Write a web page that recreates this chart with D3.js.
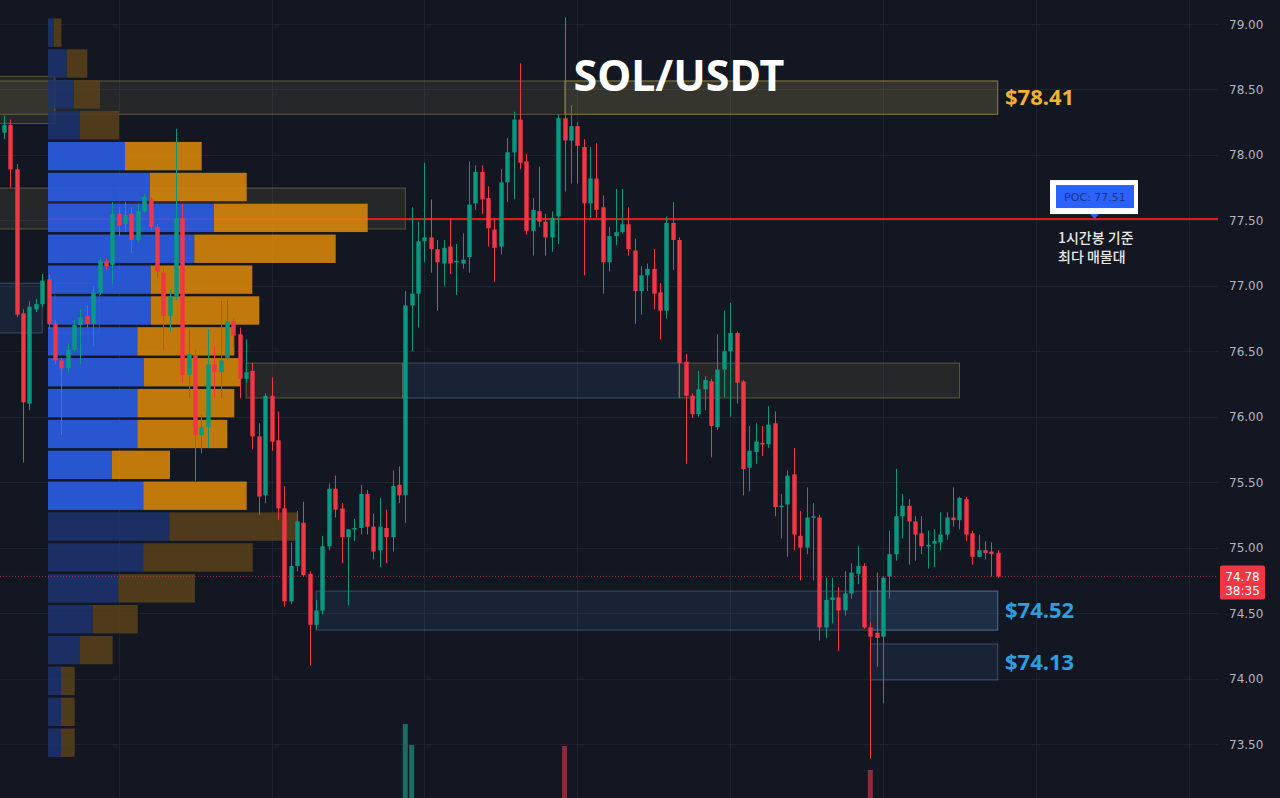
<!DOCTYPE html>
<html>
<head>
<meta charset="utf-8">
<script src="https://cdn.jsdelivr.net/npm/d3@7/dist/d3.min.js"></script>
<style>
  html, body { margin: 0; padding: 0; background: #131722; overflow: hidden; }
  svg { display: block; }
</style>
</head>
<body>
<svg id="chart"></svg>
<script>
// SOL/USDT 1h candles: [open, high, low, close]
const ohlc = [
  [78.17,78.30,78.12,78.23],[78.23,78.27,77.75,77.89],[77.89,77.93,76.76,76.78],[76.79,76.82,75.65,76.11],
  [76.10,76.88,76.05,76.84],[76.82,76.90,76.80,76.86],[76.86,77.09,76.84,77.04],[77.05,77.09,76.67,76.71],
  [76.71,76.74,76.40,76.43],[76.43,76.45,75.86,76.37],[76.37,76.56,76.34,76.51],[76.51,76.74,76.49,76.70],
  [76.70,76.82,76.40,76.76],[76.77,76.85,76.68,76.71],[76.71,77.00,76.54,76.95],[76.95,77.22,76.93,77.19],
  [77.19,77.21,77.12,77.15],[77.16,77.64,77.01,77.55],[77.55,77.60,77.38,77.46],[77.47,77.64,77.41,77.54],
  [77.55,77.60,77.25,77.35],[77.35,77.63,77.33,77.57],[77.57,77.70,77.56,77.68],[77.66,77.68,77.42,77.45],
  [77.45,77.47,77.06,77.11],[77.10,77.14,76.51,76.77],[76.77,76.97,76.65,76.92],[76.92,78.20,76.89,77.52],
  [77.52,77.63,76.26,76.32],[76.32,76.67,76.14,76.48],[76.47,76.51,75.51,75.86],[75.86,76.02,75.72,75.92],
  [75.92,76.67,75.76,76.40],[76.40,76.54,76.15,76.34],[76.34,76.89,76.14,76.43],[76.45,76.90,76.43,76.73],
  [76.73,76.75,76.53,76.62],[76.63,76.68,76.14,76.29],[76.29,76.59,76.26,76.34],[76.35,76.41,75.75,75.85],
  [75.85,75.95,75.25,75.39],[75.40,76.18,75.34,76.16],[76.16,76.30,75.74,75.81],[75.82,76.04,75.21,75.30],
  [75.30,75.47,74.55,74.59],[74.59,75.04,74.57,74.86],[74.86,75.28,74.82,75.20],[75.19,75.35,74.78,74.79],
  [74.80,74.82,74.10,74.41],[74.41,74.60,74.38,74.52],[74.52,75.09,74.49,75.01],[75.01,75.49,74.98,75.45],
  [75.45,75.55,75.23,75.29],[75.30,75.34,74.88,75.08],[75.08,75.14,74.56,75.14],[75.14,75.22,75.05,75.15],
  [75.15,75.48,75.10,75.41],[75.41,75.44,75.10,75.16],[75.16,75.26,74.91,74.97],[74.98,75.38,74.85,75.16],
  [75.15,75.29,74.88,75.08],[75.08,75.59,74.97,75.47],[75.48,75.62,75.34,75.40],[75.40,76.96,75.19,76.85],
  [76.85,77.60,76.50,76.94],[76.94,77.49,76.68,77.34],[77.34,77.94,77.18,77.37],[77.37,77.66,77.10,77.28],
  [77.28,77.35,76.81,77.18],[77.17,77.35,77.00,77.29],[77.30,77.52,77.09,77.17],[77.18,77.32,76.93,77.19],
  [77.17,77.40,77.13,77.20],[77.22,77.95,77.10,77.62],[77.63,77.92,77.58,77.87],[77.87,77.92,77.55,77.66],
  [77.67,77.76,77.30,77.44],[77.43,77.52,77.03,77.29],[77.30,77.89,77.24,77.79],[77.79,78.13,77.64,78.02],
  [78.02,78.33,77.66,78.27],[78.27,78.70,77.89,77.94],[77.95,78.01,77.39,77.42],[77.42,77.67,77.23,77.58],
  [77.57,77.91,77.45,77.49],[77.49,77.55,77.23,77.37],[77.37,77.57,77.26,77.52],[77.53,78.31,77.32,78.28],
  [78.28,79.05,77.72,78.11],[78.11,78.38,77.78,78.22],[78.22,78.25,77.78,78.07],[78.06,78.12,77.08,77.63],
  [77.63,78.06,77.52,77.82],[77.82,78.09,77.52,77.58],[77.60,77.69,76.94,77.18],[77.18,77.45,77.11,77.38],
  [77.38,77.74,77.31,77.41],[77.41,77.74,77.40,77.47],[77.47,77.60,77.23,77.28],[77.27,77.36,76.71,76.96],
  [76.96,77.15,76.78,77.08],[77.08,77.17,76.96,77.13],[77.13,77.28,76.82,76.94],[76.95,77.02,76.59,76.81],
  [76.81,77.53,76.75,77.48],[77.48,77.64,77.12,77.35],[77.35,77.37,76.15,76.41],[76.42,76.48,75.64,76.16],
  [76.16,76.18,75.99,76.02],[76.02,76.35,76.00,76.21],[76.21,76.31,76.05,76.28],[76.27,76.29,75.69,75.93],
  [75.92,76.63,75.90,76.36],[76.36,76.81,76.15,76.50],[76.50,76.87,76.00,76.64],[76.64,76.65,76.10,76.26],
  [76.27,76.28,75.40,75.60],[75.61,75.93,75.43,75.74],[75.73,75.95,75.64,75.81],[75.80,75.93,75.70,75.79],
  [75.79,76.08,75.76,75.94],[75.95,76.04,75.24,75.31],[75.31,75.41,75.07,75.32],[75.33,75.59,74.93,75.55],
  [75.56,75.76,74.98,75.10],[75.09,75.28,74.75,75.00],[75.00,75.46,74.95,75.23],[75.23,75.34,74.75,75.24],
  [75.23,75.25,74.29,74.39],[74.39,74.77,74.31,74.60],[74.60,74.77,74.42,74.62],[74.62,74.70,74.21,74.52],
  [74.52,74.82,74.48,74.65],[74.65,74.88,74.61,74.81],[74.80,75.01,74.72,74.86],[74.86,74.88,74.38,74.39],
  [74.39,74.43,73.39,74.32],[74.35,74.81,74.09,74.31],[74.32,74.78,73.81,74.77],[74.78,75.13,74.61,74.95],
  [74.95,75.60,74.90,75.24],[75.24,75.41,75.07,75.32],[75.32,75.37,74.87,75.20],[75.20,75.24,74.90,75.10],
  [75.11,75.24,74.95,75.01],[75.02,75.13,74.84,75.02],[75.03,75.14,74.85,75.05],[75.04,75.27,74.98,75.10],
  [75.10,75.27,75.06,75.23],[75.23,75.46,75.16,75.21],[75.21,75.39,75.14,75.38],[75.37,75.39,75.05,75.10],
  [75.11,75.13,74.87,74.93],[74.93,75.10,74.93,74.98],[74.98,75.05,74.91,74.96],[74.97,75.04,74.78,74.95],
  [74.96,74.98,74.77,74.78]
];

// volume bars tall enough to show above the bottom edge (candle index, volume in K)
const bigVolumes = [
  { i: 63, v: 128 }, { i: 64, v: 107 }, { i: 88, v: 106 }, { i: 136, v: 82 }
];

// volume profile, 24 rows, top row first (buy = blue, sell = orange)
const profileBuy  = [6, 18.7, 26, 32, 77, 102, 166, 146.3, 102.7, 102.7, 89.3, 96,
                     89.3, 89.3, 64, 95.3, 121.3, 95.3, 70.3, 44.7, 32, 13, 13, 13];
const profileSell = [7.4, 20.6, 26, 39, 76.7, 96.7, 153.7, 141.4, 101.6, 108.6, 97, 96,
                     97, 90, 58, 103.4, 128, 109.4, 76.7, 45, 32.7, 13.7, 13.7, 13.7];

// marked zones: candle index range and price range
const zones = [
  { from: -1,   to: 8,   top: 78.60, bottom: 78.24, kind: "supply" },
  { from: -1,   to: 156, top: 78.565, bottom: 78.31, kind: "supply" },
  { from: 88,   to: 156, top: 78.565, bottom: 78.31, kind: "supply" },
  { from: -1,   to: 63,  top: 77.747, bottom: 77.434, kind: "supply" },
  { from: -1,   to: 6,   top: 77.02, bottom: 76.64, kind: "demand" },
  { from: 8,    to: 15,  top: 77.02, bottom: 76.64, kind: "outline" },
  { from: 38,   to: 62.6, top: 76.41, bottom: 76.143, kind: "supply" },
  { from: 106,  to: 150, top: 76.41, bottom: 76.143, kind: "supply" },
  { from: 62.6, to: 106, top: 76.41, bottom: 76.143, kind: "demand" },
  { from: 49,   to: 156, top: 74.668, bottom: 74.37, kind: "demand" },
  { from: 136,  to: 156, top: 74.668, bottom: 74.37, kind: "demand" },
  { from: 136,  to: 156, top: 74.264, bottom: 73.989, kind: "demand" }
];

const zoneLabels = [
  { price: 78.44, text: "$78.41", color: "#f2b230" },
  { price: 74.52, text: "$74.52", color: "#2b9fe0" },
  { price: 74.13, text: "$74.13", color: "#2b9fe0" }
];

const priceTicks = [79.00, 78.50, 78.00, 77.50, 77.00, 76.50, 76.00, 75.50, 75.00, 74.50, 74.00, 73.50];
const pocPrice = 77.51;
const lastPrice = 74.78;
const countdown = "38:35";

const width = 1280;
const height = 798;
const plotRight = 1218;
const up = "#089981", down = "#f23645";

const svg = d3.select("#chart")
    .attr("width", width)
    .attr("height", height)
    .attr("viewBox", [0, 0, width, height]);

svg.append("rect").attr("width", width).attr("height", height).attr("fill", "#131722");

var x = d3.scaleLinear().domain([0, ohlc.length - 1]).range([4, 997.7]);
var y = d3.scaleLinear().domain([73.5, 79]).range([744, 24]);

// grid
svg.append("g").selectAll("line")
    .data(priceTicks)
    .join("line")
    .attr("x1", 0).attr("x2", plotRight)
    .attr("y1", d => Math.round(y(d)) + 0.5).attr("y2", d => Math.round(y(d)) + 0.5)
    .attr("stroke", "#1f2330");

var vTicks = d3.range(18, 200, 24).filter(i => x(i) < plotRight);
svg.append("g").selectAll("line")
    .data(vTicks)
    .join("line")
    .attr("x1", d => Math.round(x(d)) + 0.5).attr("x2", d => Math.round(x(d)) + 0.5)
    .attr("y1", 0).attr("y2", height)
    .attr("stroke", "#1f2330");

// zones
var zoneStyle = {
    supply:  { fill: "rgba(170,160,90,0.12)", stroke: "rgba(170,155,80,0.45)" },
    demand:  { fill: "rgba(70,115,170,0.14)", stroke: "rgba(95,135,175,0.45)" },
    outline: { fill: "rgba(170,160,90,0.03)", stroke: "rgba(170,155,80,0.35)" }
};
svg.append("g").selectAll("rect")
    .data(zones)
    .join("rect")
    .attr("x", d => x(d.from))
    .attr("y", d => y(d.top))
    .attr("width", d => x(d.to) - x(d.from))
    .attr("height", d => y(d.bottom) - y(d.top))
    .attr("fill", d => zoneStyle[d.kind].fill)
    .attr("stroke", d => zoneStyle[d.kind].stroke)
    .attr("stroke-width", 1);

// volume bars
var yVol = d3.scaleLinear().domain([0, 130]).range([852, 722]);
svg.append("g").selectAll("rect")
    .data(bigVolumes)
    .join("rect")
    .attr("x", d => x(d.i) - 2.5)
    .attr("width", 5)
    .attr("y", d => yVol(d.v))
    .attr("height", d => height - yVol(d.v))
    .attr("fill", d => ohlc[d.i][3] >= ohlc[d.i][0] ? "#1c6b60" : "#8a2c3a");

// POC line
svg.append("line")
    .attr("x1", 48).attr("x2", plotRight)
    .attr("y1", y(pocPrice)).attr("y2", y(pocPrice))
    .attr("stroke", "#e8151b").attr("stroke-width", 2);

// volume profile
var hi = d3.max(ohlc, d => d[1]);
var lo = d3.min(ohlc, d => d[2]);
var rows = profileBuy.length;
var step = (hi - lo) / rows;
var totals = profileBuy.map((b, k) => b + profileSell[k]);
var pocRow = d3.maxIndex(totals);

// value area: 70% of volume around POC
var inVA = new Set([pocRow]);
var vaSum = totals[pocRow], vaTotal = d3.sum(totals);
var a = pocRow - 1, b = pocRow + 1;
while (vaSum < 0.7 * vaTotal && (a >= 0 || b < rows)) {
    var va = a >= 0 ? totals[a] : -1;
    var vb = b < rows ? totals[b] : -1;
    if (vb >= va) { inVA.add(b); vaSum += vb; b++; }
    else { inVA.add(a); vaSum += va; a--; }
}

var px = d3.scaleLinear().domain([0, d3.max(totals)]).range([48, 367.7]);
var profile = svg.append("g").attr("fill-opacity", 0.88);
profileBuy.forEach((buy, k) => {
    var top = y(hi - k * step) + 1;
    var h = y(hi - (k + 1) * step) - y(hi - k * step) - 2.5;
    var bright = inVA.has(k);
    profile.append("rect")
        .attr("x", px(0)).attr("y", top)
        .attr("width", px(buy) - px(0)).attr("height", h)
        .attr("fill", bright ? "#2b5fe8" : "#1d336d");
    profile.append("rect")
        .attr("x", px(buy)).attr("y", top)
        .attr("width", px(buy + profileSell[k]) - px(buy)).attr("height", h)
        .attr("fill", bright ? "#db8709" : "#58411b");
});

// candles
var candles = svg.append("g");
candles.selectAll("line")
    .data(ohlc)
    .join("line")
    .attr("x1", (d, i) => Math.round(x(i)) + 0.5)
    .attr("x2", (d, i) => Math.round(x(i)) + 0.5)
    .attr("y1", d => y(d[1]))
    .attr("y2", d => y(d[2]))
    .attr("stroke", d => d[3] >= d[0] ? up : down)
    .attr("stroke-width", 1);

candles.selectAll("rect")
    .data(ohlc)
    .join("rect")
    .attr("x", (d, i) => Math.round(x(i)) + 0.5 - 2.2)
    .attr("width", 4.4)
    .attr("y", d => y(Math.max(d[0], d[3])))
    .attr("height", d => Math.max(1.5, Math.abs(y(d[0]) - y(d[3]))))
    .attr("fill", d => d[3] >= d[0] ? up : down);

// last price dotted line
svg.append("line")
    .attr("x1", 0).attr("x2", plotRight)
    .attr("y1", y(lastPrice)).attr("y2", y(lastPrice))
    .attr("stroke", "#f23645").attr("stroke-opacity", 0.6)
    .attr("stroke-dasharray", "1,2");

// title
svg.append("text")
    .attr("x", 679).attr("y", 91)
    .attr("text-anchor", "middle")
    .attr("font-family", "'Noto Sans', 'Open Sans', sans-serif")
    .attr("font-weight", 700)
    .attr("font-size", 43)
    .attr("fill", "#ffffff")
    .text("SOL/USDT");

// zone price labels
svg.append("g").selectAll("text")
    .data(zoneLabels)
    .join("text")
    .attr("x", 1005)
    .attr("y", d => y(d.price) + 8)
    .attr("font-family", "'Noto Sans', sans-serif")
    .attr("font-weight", 700)
    .attr("font-size", 22)
    .attr("fill", d => d.color)
    .text(d => d.text);

// POC callout
var pocY = y(pocPrice);
var callout = svg.append("g");
callout.append("rect")
    .attr("x", 1050).attr("y", pocY - 39)
    .attr("width", 88).attr("height", 34)
    .attr("fill", "#ffffff");
callout.append("rect")
    .attr("x", 1056).attr("y", pocY - 34)
    .attr("width", 78).attr("height", 23)
    .attr("fill", "#2962ff");
callout.append("text")
    .attr("x", 1095).attr("y", pocY - 18)
    .attr("text-anchor", "middle")
    .attr("font-family", "'DejaVu Sans', sans-serif")
    .attr("font-size", 11)
    .attr("fill", "#1e3680")
    .text("POC: " + pocPrice.toFixed(2));
callout.append("path")
    .attr("d", `M1090,${pocY - 5} L1099,${pocY - 5} L1094.5,${pocY}Z`)
    .attr("fill", "#2962ff");
["1시간봉 기준", "최다 매물대"].forEach((t, k) => {
    callout.append("text")
        .attr("x", 1058).attr("y", pocY + 24 + k * 19)
        .attr("font-family", "'Noto Sans CJK KR', sans-serif")
        .attr("font-weight", 500)
        .attr("font-size", 14)
        .attr("fill", "#e8e8e8")
        .text(t);
});

// price axis
svg.append("g").selectAll("text")
    .data(priceTicks)
    .join("text")
    .attr("x", 1229)
    .attr("y", d => y(d) + 4.5)
    .attr("font-family", "'DejaVu Sans', sans-serif")
    .attr("font-size", 12)
    .attr("fill", "#b2b5be")
    .text(d => d.toFixed(2));

// last price tag
var tag = svg.append("g");
tag.append("rect")
    .attr("x", 1220).attr("y", y(lastPrice) - 11)
    .attr("width", 45).attr("height", 34)
    .attr("rx", 2)
    .attr("fill", "#f23645");
tag.append("text")
    .attr("x", 1242.5).attr("y", y(lastPrice) + 4.5)
    .attr("text-anchor", "middle")
    .attr("font-family", "'DejaVu Sans', sans-serif")
    .attr("font-size", 12)
    .attr("fill", "#ffffff")
    .text(lastPrice.toFixed(2));
tag.append("text")
    .attr("x", 1242.5).attr("y", y(lastPrice) + 19)
    .attr("text-anchor", "middle")
    .attr("font-family", "'DejaVu Sans', sans-serif")
    .attr("font-size", 12)
    .attr("fill", "#ffffff")
    .text(countdown);
</script>
</body>
</html>
